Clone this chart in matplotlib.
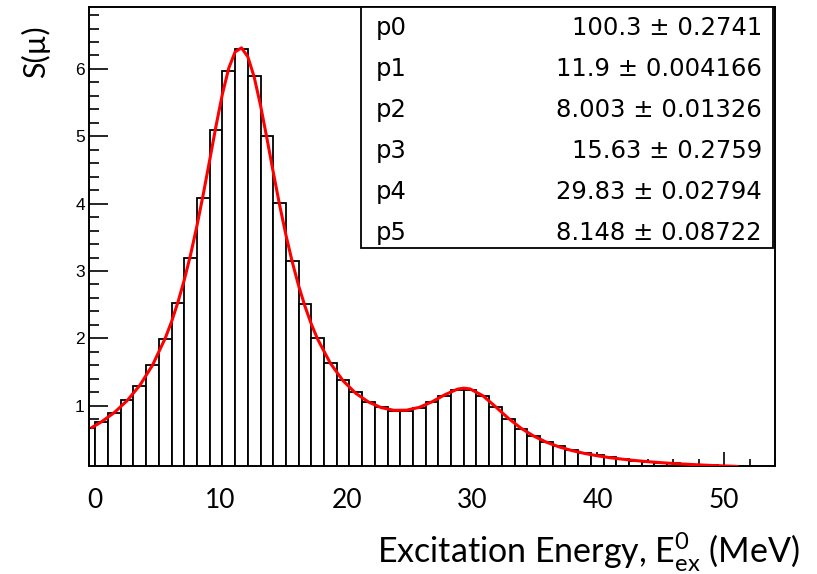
import matplotlib
matplotlib.use("Agg")
import matplotlib.pyplot as plt
import matplotlib.transforms as mtransforms
from matplotlib.ticker import MultipleLocator
from matplotlib.patches import Rectangle

# ---------------- data ----------------
bin_centers = list(range(0, 54))
bin_heights = [0.673, 0.753, 0.89, 1.08, 1.30, 1.60, 1.99, 2.52, 3.20, 4.09,
               5.10, 5.97, 6.30, 5.90, 5.00, 4.01, 3.15, 2.51, 2.00, 1.64,
               1.38, 1.20, 1.06, 0.975, 0.92, 0.92, 0.96, 1.05, 1.15, 1.24,
               1.24, 1.14, 0.975, 0.81, 0.66, 0.545, 0.46, 0.40, 0.34, 0.30,
               0.27, 0.235, 0.205, 0.18, 0.165, 0.155, 0.145, 0.132, 0.122, 0.113,
               0.105, 0.098, 0.092, 0.086]

fit_x = [0.25, 1, 2, 3, 4, 5, 6, 6.5, 7, 7.5, 8, 8.5, 9, 9.5, 10, 10.5, 11, 11.5,
         12, 12.5, 13, 13.5, 14, 14.5, 15, 15.5, 16, 16.5, 17, 17.5, 18, 19, 20,
         21, 22, 23, 24, 25, 26, 27, 28, 29, 29.5, 30, 31, 32, 33, 34, 35, 36,
         37, 38, 39, 40, 41, 42, 43, 44, 45, 46, 47, 48, 49, 50, 51]
fit_y = [0.679, 0.763, 0.900, 1.075, 1.303, 1.602, 2.002, 2.249, 2.537, 2.868,
         3.246, 3.674, 4.145, 4.647, 5.155, 5.627, 6.011, 6.253, 6.314, 6.182,
         5.882, 5.461, 4.975, 4.471, 3.984, 3.536, 3.134, 2.782, 2.476, 2.212,
         1.987, 1.630, 1.370, 1.184, 1.055, 0.972, 0.932, 0.934, 0.976, 1.058,
         1.162, 1.246, 1.261, 1.249, 1.149, 0.986, 0.815, 0.667, 0.550, 0.459,
         0.389, 0.335, 0.292, 0.257, 0.229, 0.206, 0.186, 0.169, 0.155, 0.142,
         0.132, 0.122, 0.113, 0.106, 0.099]

param_names = ["p0", "p1", "p2", "p3", "p4", "p5"]
param_values = ["100.3", "11.9", "8.003", "15.63", "29.83", "8.148"]
param_errors = ["0.2741", "0.004166", "0.01326", "0.2759", "0.02794", "0.08722"]

x_ticks = [0, 10, 20, 30, 40, 50]
y_ticks = [1, 2, 3, 4, 5, 6]

# ---------------- style ----------------
plt.rcParams["mathtext.fontset"] = "custom"
plt.rcParams["mathtext.rm"] = "Lato"
plt.rcParams["mathtext.it"] = "Lato:italic"
plt.rcParams["mathtext.bf"] = "Lato:bold"

fig = plt.figure(figsize=(8.17, 5.74), dpi=100)
ax = fig.add_axes([0.10894, 0.18815, 0.83966, 0.79965])

ax.bar(bin_centers, bin_heights, width=1.0, facecolor="white",
       edgecolor="black", linewidth=1.3, zorder=2)
ax.plot(fit_x, fit_y, color="red", linewidth=2.2, zorder=3)

ax.set_xlim(0, 54)
ax.set_ylim(0.105, 6.92)

for s in ax.spines.values():
    s.set_linewidth(1.4)
    s.set_color("black")

ax.set_xticks(x_ticks)
ax.set_xticklabels([str(v) for v in x_ticks], fontfamily="Lato", fontsize=19)
ax.set_yticks(y_ticks)
ax.set_yticklabels([str(v) for v in y_ticks], fontfamily="Liberation Sans", fontsize=12.5)
ax.xaxis.set_minor_locator(MultipleLocator(2))
ax.yaxis.set_minor_locator(MultipleLocator(0.2))

ax.tick_params(axis="x", which="major", direction="in", length=10, width=1.2,
               top=False, pad=16, colors="black")
ax.tick_params(axis="x", which="minor", direction="in", length=5, width=1.2, top=False)
ax.tick_params(axis="y", which="major", direction="in", length=14, width=1.2,
               right=False, pad=3)
ax.tick_params(axis="y", which="minor", direction="in", length=7, width=1.2, right=False)

# small horizontal nudges of the x tick labels (as placed in the reference)
label_shifts_px = [6, 4, 4, 2, 1, 0]
for lbl, dx in zip(ax.get_xticklabels(), label_shifts_px):
    lbl.set_transform(lbl.get_transform() +
                      mtransforms.ScaledTranslation(dx / 100.0, 0, fig.dpi_scale_trans))

# stats box
box = Rectangle((0.3965, 0.4749), 0.6005, 0.5251, transform=ax.transAxes,
                facecolor="white", edgecolor="black", linewidth=1.3,
                zorder=5, clip_on=False)
ax.add_patch(box)
row_base = [0.9390, 0.8497, 0.7603, 0.6710, 0.5817, 0.4924]
for name, val, err, yb in zip(param_names, param_values, param_errors, row_base):
    ax.text(0.418, yb, name, transform=ax.transAxes, ha="left", va="baseline",
            fontsize=17.5, fontfamily="DejaVu Sans", zorder=6)
    ax.text(0.981, yb, f"{val} \u00b1 {err}", transform=ax.transAxes, ha="right",
            va="baseline", fontsize=17.5, fontfamily="DejaVu Sans", zorder=6)

# axis labels
ax.set_ylabel("S(\u00b5)", fontfamily=["Lato", "DejaVu Sans"], fontsize=22,
              va="center", ha="center")
ax.yaxis.set_label_coords(-0.0787, 0.902)
ax.set_xlabel(r"Excitation Energy, $\mathregular{E^{0}_{ex}}$ (MeV)",
              fontfamily="Lato", fontsize=24.5, ha="right", va="center")
ax.xaxis.set_label_coords(1.0364, -0.1874)

fig.savefig("out.png", dpi=100)
